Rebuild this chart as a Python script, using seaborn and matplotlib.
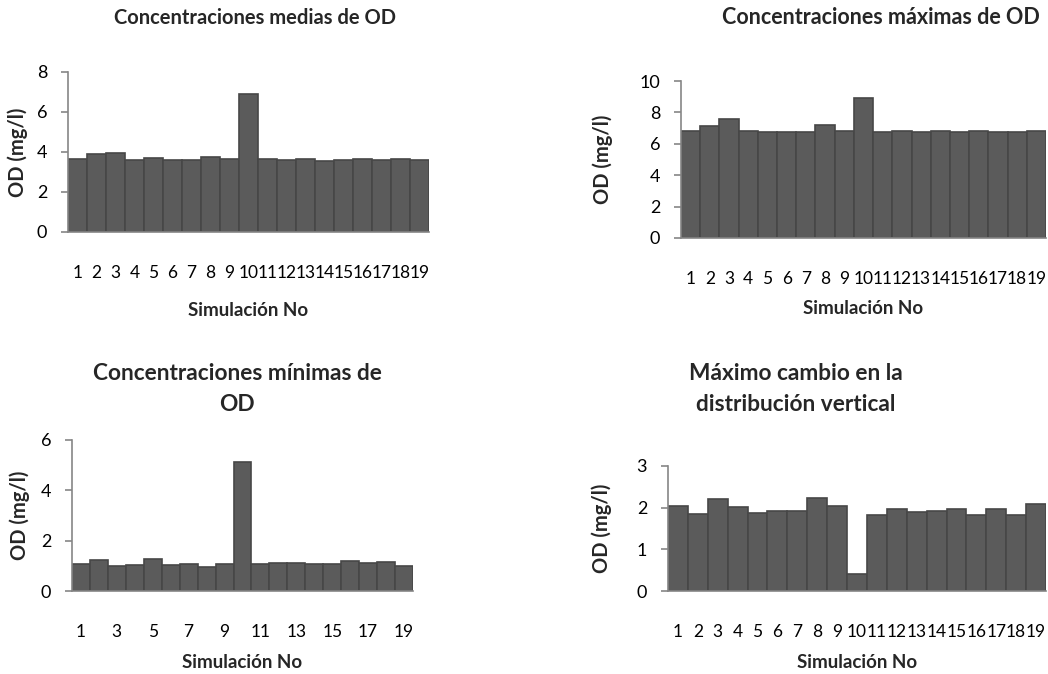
import matplotlib
matplotlib.use("Agg")
import matplotlib.pyplot as plt
import seaborn as sns

sns.set_style("white")
plt.rcParams["font.family"] = ["Lato", "DejaVu Sans"]

# Simulation numbers and dissolved-oxygen results
simulaciones = [str(i) for i in range(1, 20)]
od_medias = [3.63, 3.90, 3.93, 3.60, 3.68, 3.60, 3.60, 3.77, 3.63, 6.91,
             3.63, 3.60, 3.63, 3.55, 3.60, 3.67, 3.60, 3.67, 3.60]
od_maximas = [6.82, 7.11, 7.56, 6.82, 6.73, 6.77, 6.77, 7.22, 6.82, 8.90,
              6.77, 6.82, 6.77, 6.82, 6.75, 6.82, 6.77, 6.75, 6.82]
od_minimas = [1.06, 1.23, 1.01, 1.03, 1.27, 1.03, 1.07, 0.95, 1.06, 5.13,
              1.07, 1.13, 1.13, 1.06, 1.07, 1.19, 1.10, 1.15, 0.99]
cambio_vertical = [2.05, 1.86, 2.20, 2.02, 1.87, 1.92, 1.91, 2.23, 2.05, 0.42,
                   1.83, 1.96, 1.90, 1.92, 1.96, 1.83, 1.97, 1.83, 2.09]

titulos = ["Concentraciones medias de OD",
           "Concentraciones máximas de OD",
           "Concentraciones mínimas de\nOD",
           "Máximo cambio en la\ndistribución vertical"]
etiqueta_x = "Simulación No"
etiqueta_y = "OD (mg/l)"

W, H = 1048, 674
fig = plt.figure(figsize=(W / 100, H / 100), dpi=100)

BAR = "#5b5b5b"
EDGE = "#474747"
AXIS = "#868686"


def px_axes(left, right, bottom, top):
    return fig.add_axes([left / W, 1 - bottom / H, (right - left) / W, (bottom - top) / H])


def fx(x):
    return x / W


def fy(y):
    return 1 - y / H


# values, axes box (px), y max, y ticks, title x, title y, title size, xlabel y, ylabel x, odd ticks only
paneles = [
    (od_medias, (68, 429, 232, 72), 8, [0, 2, 4, 6, 8], 255, 18, 14.5, 310, 18, False),
    (od_maximas, (681, 1046, 238, 81), 10, [0, 2, 4, 6, 8, 10], 881, 18, 15.5, 309, 603, False),
    (od_minimas, (72, 413, 591, 440), 6, [0, 2, 4, 6], 237, 389, 16.3, 662, 20, True),
    (cambio_vertical, (668, 1046, 591, 466), 3, [0, 1, 2, 3], 796, 389, 16.3, 662, 602, False),
]

for i, (vals, box, ymax, yt, tx, ty, tsize, xly, ylx, impares) in enumerate(paneles):
    ax = px_axes(*box)
    sns.barplot(x=simulaciones, y=vals, color=BAR, saturation=1, width=1.0,
                edgecolor=EDGE, linewidth=1.2, ax=ax)
    ax.set_xlim(-0.5, 18.5)
    ax.set_ylim(0, ymax)
    ax.set_yticks(yt)
    ax.set_yticklabels([str(v) for v in yt])
    if impares:
        ax.set_xticks(range(19))
        ax.set_xticklabels([s if int(s) % 2 == 1 else "" for s in simulaciones])
    for s in ["top", "right"]:
        ax.spines[s].set_visible(False)
    for s in ["left", "bottom"]:
        ax.spines[s].set_color(AXIS)
        ax.spines[s].set_linewidth(1.2)
    ax.tick_params(axis="y", direction="out", length=5, width=1.2, color=AXIS,
                   labelsize=13, pad=10, labelcolor="#000000", left=True)
    ax.tick_params(axis="x", length=0, labelsize=12.5, pad=24, labelcolor="#000000")
    ax.set_xlabel("")
    ax.set_ylabel("")
    fig.text(fx(tx), fy(ty), titulos[i], ha="center", va="center",
             fontsize=tsize, fontweight="bold", linespacing=1.6)
    fig.text(fx((box[0] + box[1]) / 2), fy(xly), etiqueta_x, ha="center", va="center",
             fontsize=13.5, fontweight="bold")
    fig.text(fx(ylx), fy((box[2] + box[3]) / 2), etiqueta_y, ha="center", va="center",
             rotation=90, fontsize=14.5, fontweight="bold")

fig.savefig("out.png", dpi=100)
